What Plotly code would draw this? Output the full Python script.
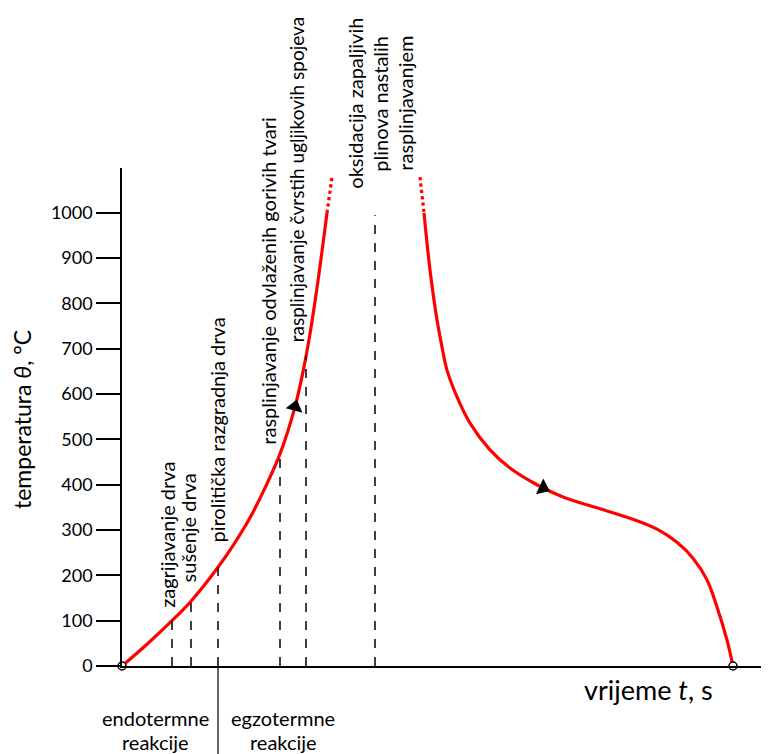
import plotly.graph_objects as go

# ---- data (time in arbitrary units, temperature in °C) ----
rise_t = [0, 25, 50, 69, 96, 112, 128, 143, 158, 173, 181, 188, 196, 205]
rise_temp = [0, 48, 100, 143, 218, 269, 327, 393, 468, 572, 649, 733, 850, 1000]
rise_ext_t = [205, 210]
rise_ext_temp = [1000, 1079]
fall_ext_t = [298, 302]
fall_ext_temp = [1079, 1000]
fall_t = [302, 308, 315, 320, 325, 335, 348, 368, 388, 415, 441, 475, 508, 535,
          555, 571, 585, 595, 605, 611]
fall_temp = [1000, 874, 764, 704, 653, 594, 536, 477, 437, 400, 373, 349, 326, 302,
             273, 238, 190, 130, 57, 0]

dash_t = [50, 69, 96, 158, 184, 253]
dash_top = [100, 143, 218, 468, 684, 995]

arrow_t = [173, 421]
arrow_temp = [572, 393]
arrow_angle = [15, 115]

end_t = [0, 611]
end_temp = [0, 0]

stage_labels = ["zagrijavanje drva", "sušenje drva", "pirolitička razgradnja drva",
                "rasplinjavanje odvlaženih gorivih tvari",
                "rasplinjavanje čvrstih ugljikovih spojeva"]
stage_x = [45, 66, 95, 146, 174]
stage_bottom = [124, 179, 267, 483, 709]
stage_size = [20, 20, 20, 20, 19]

ox_labels = ["oksidacija zapaljivih", "plinova nastalih", "rasplinjavanjem"]
ox_x = [233, 258, 283]
ox_center = 1241

region_labels = [["endotermne", "reakcije"], ["egzotermne", "reakcije"]]
region_x = [33, 161]
region_line_y = [-114, -168]
boundary_t = 96

yticks = list(range(0, 1001, 100))
X_MAX = 647
Y_MAX = 1099

FONT = "Lato, 'Open Sans', sans-serif"
RED = "#ff0000"


def px(t):
    return t / X_MAX


def py(v):
    return v / Y_MAX


fig = go.Figure()

fig.add_trace(go.Scatter(x=rise_t, y=rise_temp, mode="lines",
                         line=dict(color=RED, width=3.2, shape="spline", smoothing=1.0),
                         hoverinfo="skip", showlegend=False))
fig.add_trace(go.Scatter(x=fall_t, y=fall_temp, mode="lines",
                         line=dict(color=RED, width=3.2, shape="spline", smoothing=1.0),
                         hoverinfo="skip", showlegend=False))
for xs, ys in [(rise_ext_t, rise_ext_temp), (fall_ext_t, fall_ext_temp)]:
    fig.add_trace(go.Scatter(x=xs, y=ys, mode="lines",
                             line=dict(color=RED, width=3.2, dash="dot"),
                             hoverinfo="skip", showlegend=False))

for t, top in zip(dash_t, dash_top):
    fig.add_trace(go.Scatter(x=[t, t], y=[0, top], mode="lines",
                             line=dict(color="black", width=1.5, dash="dash"),
                             hoverinfo="skip", showlegend=False))

fig.add_trace(go.Scatter(x=arrow_t, y=arrow_temp, mode="markers",
                         marker=dict(symbol="triangle-up", size=15, color="black",
                                     angle=arrow_angle, line=dict(width=0)),
                         hoverinfo="skip", showlegend=False))

fig.add_trace(go.Scatter(x=end_t, y=end_temp, mode="markers", cliponaxis=False,
                         marker=dict(symbol="circle", size=8, color="white",
                                     line=dict(color="black", width=1.5)),
                         hoverinfo="skip", showlegend=False))

annotations = []
for txt, x, yb, fs in zip(stage_labels, stage_x, stage_bottom, stage_size):
    annotations.append(dict(x=px(x), y=py(yb), xref="paper", yref="paper", text=txt,
                            textangle=-90, showarrow=False, xanchor="center",
                            yanchor="bottom",
                            font=dict(family=FONT, size=fs, color="black")))
for txt, x in zip(ox_labels, ox_x):
    annotations.append(dict(x=px(x), y=py(ox_center), xref="paper", yref="paper",
                            text=txt, textangle=-90, showarrow=False,
                            xanchor="center", yanchor="middle",
                            font=dict(family=FONT, size=20, color="black")))
for lines, x in zip(region_labels, region_x):
    for txt, y in zip(lines, region_line_y):
        annotations.append(dict(x=px(x), y=py(y), xref="paper", yref="paper", text=txt,
                                showarrow=False, xanchor="center", yanchor="middle",
                                font=dict(family=FONT, size=20, color="black")))

annotations.append(dict(x=(22 - 122) / X_MAX, y=0.494, xref="paper", yref="paper",
                        text="temperatura <i>θ</i>, °C", textangle=-90, showarrow=False,
                        xanchor="center", yanchor="middle",
                        font=dict(family=FONT, size=23, color="black")))
annotations.append(dict(x=0.813, y=-0.048, xref="paper", yref="paper",
                        text="vrijeme <i>t</i>, s", showarrow=False,
                        xanchor="center", yanchor="middle",
                        font=dict(family=FONT, size=27, color="black")))

fig.update_layout(
    width=761, height=746,
    margin=dict(l=114, r=0, t=160, b=88),
    paper_bgcolor="white", plot_bgcolor="white",
    annotations=annotations,
    shapes=[dict(type="line", xref="paper", yref="paper",
                 x0=px(boundary_t), x1=px(boundary_t), y0=0, y1=-0.2,
                 line=dict(color="black", width=1.2))],
    xaxis=dict(range=[0, X_MAX], showline=True, linecolor="black", linewidth=1.5,
               showticklabels=False, ticks="", showgrid=False, zeroline=False,
               fixedrange=True),
    yaxis=dict(range=[0, Y_MAX], showline=True, linecolor="black", linewidth=1.5,
               tickvals=yticks, ticktext=[str(v) for v in yticks],
               ticks="outside", ticklen=24, tickwidth=1.5, tickcolor="black",
               tickfont=dict(family=FONT, size=18, color="black"),
               showgrid=False, zeroline=False, fixedrange=True),
)

fig.write_html("out.html")
